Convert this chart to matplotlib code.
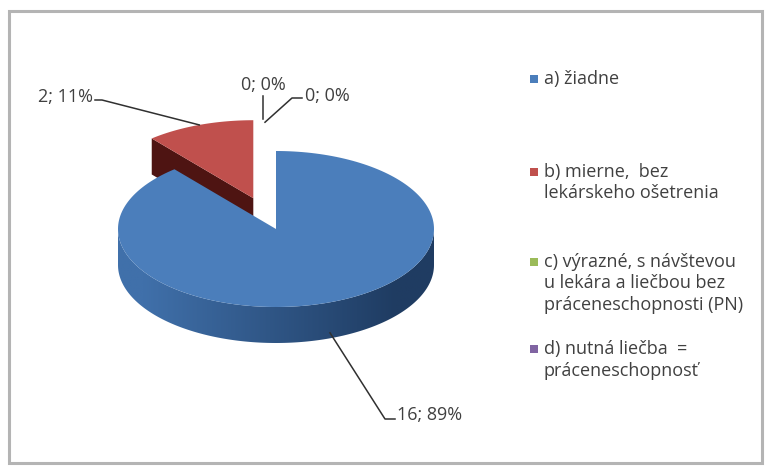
import numpy as np
import matplotlib.pyplot as plt
from matplotlib.colors import to_rgb
from matplotlib.patches import Polygon, Rectangle

plt.rcParams['font.family'] = ['Open Sans', 'DejaVu Sans']

# data
categories = ["a) žiadne",
              "b) mierne,  bez\nlekárskeho ošetrenia",
              "c) výrazné, s návštevou\nu lekára a liečbou bez\npráceneschopnosti (PN)",
              "d) nutná liečba  =\npráceneschopnosť"]
values = [16, 2, 0, 0]
explode = [0.0, 0.42, 0.42, 0.42]

top_colors = ["#4b7ebb", "#c0504d", "#9bbb59", "#8064a2"]
side_light = ["#4070aa", "#7a2422", "#6f8a3d", "#5a4575"]
side_dark = ["#1f3c62", "#4e1412", "#4d6128", "#3d2e52"]

# pie geometry in pixel space (y grows downward)
cx, cy = 276, 229
ra, rb = 158, 78
depth = 36


def rim(theta_deg, dx=0.0, dy=0.0):
    t = np.radians(theta_deg)
    return cx + ra * np.sin(t) + dx, cy - rb * np.cos(t) + dy


fig = plt.figure(figsize=(7.65, 4.66), dpi=100)
ax = fig.add_axes([0, 0, 1, 1])

# chart frame
ax.add_patch(Rectangle((9, 11), 753, 452, fill=False, edgecolor="#b4b4b4", lw=2.2, zorder=0))

total = sum(values)
starts = np.cumsum([0] + values[:-1]) / total * 360
ends = np.cumsum(values) / total * 360

offsets = []
for i in range(len(values)):
    mid = np.radians((starts[i] + ends[i]) / 2)
    offsets.append((explode[i] * ra * np.sin(mid), -explode[i] * rb * np.cos(mid)))

# draw back slices first (red is behind blue)
order = [1, 2, 3, 0]
z = 2
for i in order:
    if values[i] == 0:
        continue
    s, e = starts[i], ends[i]
    dx, dy = offsets[i]
    centre = (cx + dx, cy + dy)
    # radial faces that face the viewer
    for edge, visible in ((s, np.sin(np.radians(s)) < 0), (e, np.sin(np.radians(e)) > 0)):
        if visible:
            px, py = rim(edge, dx, dy)
            ax.add_patch(Polygon([centre, (px, py), (px, py + depth), (centre[0], centre[1] + depth)],
                                 closed=True, facecolor=side_dark[i], edgecolor='none', zorder=z))
    # front outer wall with horizontal shading gradient
    lo, hi = max(s, 90), min(e, 270)
    if hi > lo:
        th = np.linspace(lo, hi, 200)
        upper = [rim(t, dx, dy) for t in th]
        lower = [(x, y + depth) for x, y in upper[::-1]]
        wall = Polygon(upper + lower, closed=True, facecolor='none', edgecolor='none', zorder=z)
        ax.add_patch(wall)
        c1 = np.array(to_rgb(side_light[i]))
        c2 = np.array(to_rgb(side_dark[i]))
        f = np.clip(np.linspace(-0.1, 1.15, 256), 0, 1)[None, :, None]
        grad = c1 + (c2 - c1) * f
        x0 = min(p[0] for p in upper)
        x1 = max(p[0] for p in upper)
        y0 = min(p[1] for p in upper)
        y1 = max(p[1] for p in lower)
        im = ax.imshow(grad, extent=(x0, x1, y1, y0), aspect='auto', zorder=z, interpolation='bilinear')
        im.set_clip_path(wall)
    # top face
    th = np.linspace(s, e, 200)
    pts = [centre] + [rim(t, dx, dy) for t in th]
    ax.add_patch(Polygon(pts, closed=True, facecolor=top_colors[i], edgecolor='none', zorder=z + 1))
    z += 2

ax.set_xlim(0, 765)
ax.set_ylim(466, 0)
ax.axis('off')

# data labels with leader lines
label_pos = [(397, 415, 'left'), (93, 97, 'right'), (263, 85, 'center'), (305, 96, 'left')]
for i in range(len(values)):
    dx, dy = offsets[i]
    mid = (starts[i] + ends[i]) / 2
    px, py = rim(mid, dx, dy)
    if np.cos(np.radians(mid)) < 0:
        py += depth * 0.85
    lx, ly, ha = label_pos[i]
    pct = round(100 * values[i] / total)
    ax.text(lx, ly, f"{values[i]}; {pct}%", ha=ha, va='center', fontsize=13,
            color="#404040", zorder=20)
    if i == 0:
        pts = [(lx - 2, ly + 4), (lx - 12, ly + 4), (px, py)]
    elif i == 1:
        pts = [(lx + 2, ly + 3), (lx + 9, ly + 3), (px, py)]
    elif i == 2:
        pts = [(lx, ly + 11), (lx, ly + 34)]
    else:
        pts = [(lx - 3, ly + 2), (lx - 13, ly + 2), (px - 11, py + 4)]
    xs, ys = zip(*pts)
    ax.plot(xs, ys, color="#303030", lw=1.1, zorder=19)

# legend
legend_y = [79, 172, 262, 349]
line_gap = 21.5
for i, lab in enumerate(categories):
    ax.add_patch(Rectangle((530, legend_y[i] - 4), 8, 8, facecolor=top_colors[i],
                           edgecolor='none', zorder=20))
    for j, ln in enumerate(lab.split("\n")):
        ax.text(544, legend_y[i] + j * line_gap, ln, ha='left', va='center',
                fontsize=13, color="#404040", zorder=20)

fig.savefig("out.png", dpi=100, facecolor="white")
